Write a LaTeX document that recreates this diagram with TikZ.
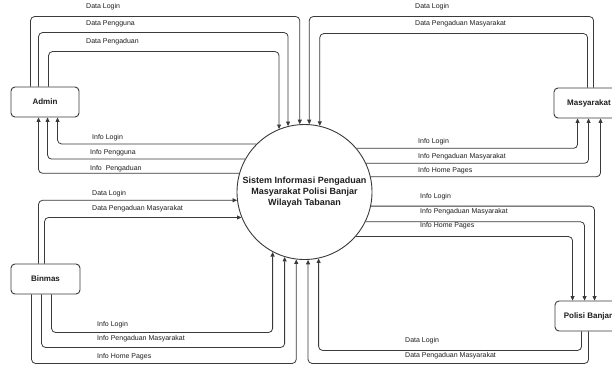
\documentclass[tikz,border=0pt]{standalone}
\usepackage{fontspec}
\setmainfont{Liberation Sans}
\usetikzlibrary{arrows.meta,calc}
\definecolor{ln}{HTML}{3A3A3A}
\definecolor{tx}{HTML}{1E1E1E}
\tikzset{
  entity/.style={draw=ln, line width=0.9pt, rounded corners=4pt, minimum height=30pt, inner sep=0pt, font=\fontsize{8}{9}\selectfont\bfseries, text=tx},
  proc/.style={draw=ln, line width=0.9pt, circle, minimum size=135pt, inner sep=0pt, align=center, font=\fontsize{9}{11}\selectfont\bfseries, text=tx},
  flow/.style={draw=ln, line width=0.8pt, rounded corners=4pt, -{Triangle[length=4.5pt,width=4pt]}},
  lbl/.style={anchor=west, inner sep=0pt, font=\fontsize{7}{8}\selectfont, text=tx}
}
\begin{document}
\begin{tikzpicture}[x=1pt,y=-1pt]
\useasboundingbox (0,0) rectangle (612,365);
\fill[white] (0,0) rectangle (612,365);

\node[proc] (sys) at (304.5,192) {Sistem Informasi Pengaduan\\Masyarakat Polisi Banjar\\Wilayah Tabanan};
\node[entity, minimum width=68pt] (admin) at (45,102) {Admin};
\node[entity, minimum width=70pt] (masy) at (589,103) {Masyarakat};
\node[entity, minimum width=69pt] (binmas) at (45.5,279) {Binmas};
\node[entity, minimum width=66pt] (polisi) at (588,316) {Polisi Banjar};

% Admin
\draw[flow] ($(admin.north west)+(20,0)$) -- ++(0,-70) -| (sys.94.7);
\draw[flow] ($(admin.north west)+(28,0)$) -- ++(0,-54) -| (sys.104.1);
\draw[flow] ($(admin.north west)+(38,0)$) -- ++(0,-35) -| (sys.112.2);
\draw[flow] (sys.135.9) -| ($(admin.south west)+(47,0)$);
\draw[flow] (sys.151.7) -| ($(admin.south west)+(37,0)$);
\draw[flow] (sys.164.5) -| ($(admin.south west)+(28,0)$);
\node[lbl] (l1) at (86,7) {Data Login};
\node[lbl] (l2) at (86,24) {Data Pengguna};
\node[lbl] (l3) at (86,42) {Data Pengaduan};
\node[lbl] (l4) at (92,138) {Info Login};
\node[lbl] (l5) at (90,153) {Info Pengguna};
\node[lbl] (l6) at (90,169) {Info \ Pengaduan};

% Masyarakat
\draw[flow] ($(masy.north west)+(40,0)$) -- ++(0,-71) -| (sys.86.2);
\draw[flow] ($(masy.north west)+(34,0)$) -- ++(0,-54) -| (sys.77.6);
\draw[flow] (sys.40.7) -| ($(masy.south west)+(24,0)$);
\draw[flow] (sys.25.4) -| ($(masy.south west)+(35,0)$);
\draw[flow] (sys.13.7) -| ($(masy.south west)+(47,0)$);
\node[lbl] (m1) at (415,7) {Data Login};
\node[lbl] (m2) at (415,24) {Data Pengaduan Masyarakat};
\node[lbl] (m3) at (418,142) {Info Login};
\node[lbl] (m4) at (418,157) {Info Pengaduan Masyarakat};
\node[lbl] (m5) at (418,171) {Info Home Pages};

% Binmas
\draw[flow] ($(binmas.north west)+(28,0)$) |- (sys.187.7);
\draw[flow] ($(binmas.north west)+(34,0)$) |- (sys.202.7);
\draw[flow] ($(binmas.south west)+(41,0)$) -- ++(0,38) -| (sys.242.2);
\draw[flow] ($(binmas.south west)+(31,0)$) -- ++(0,53) -| (sys.253.2);
\draw[flow] ($(binmas.south west)+(21,0)$) -- ++(0,69) -| (sys.263.6);
\node[lbl] (b1) at (92,194) {Data Login};
\node[lbl] (b2) at (92,209) {Data Pengaduan Masyarakat};
\node[lbl] (b3) at (97,325) {Info Login};
\node[lbl] (b4) at (97,339) {Info Pengaduan Masyarakat};
\node[lbl] (b5) at (97,357) {Info Home Pages};

% Polisi Banjar
\draw[flow] (sys.-12.0) -| ($(polisi.north west)+(40,0)$);
\draw[flow] (sys.-26.4) -| ($(polisi.north west)+(30,0)$);
\draw[flow] (sys.-41.8) -| ($(polisi.north west)+(18,0)$);
\draw[flow] ($(polisi.south west)+(27,0)$) -- ++(0,19) -| (sys.282.4);
\draw[flow] ($(polisi.south west)+(34,0)$) -- ++(0,32) -| (sys.273.0);
\node[lbl] (p1) at (420,197) {Info Login};
\node[lbl] (p2) at (420,212) {Info Pengaduan Masyarakat};
\node[lbl] (p3) at (420,226) {Info Home Pages};
\node[lbl] (p4) at (405,341) {Data Login};
\node[lbl] (p5) at (405,356) {Data Pengaduan Masyarakat};
\end{tikzpicture}
\end{document}
